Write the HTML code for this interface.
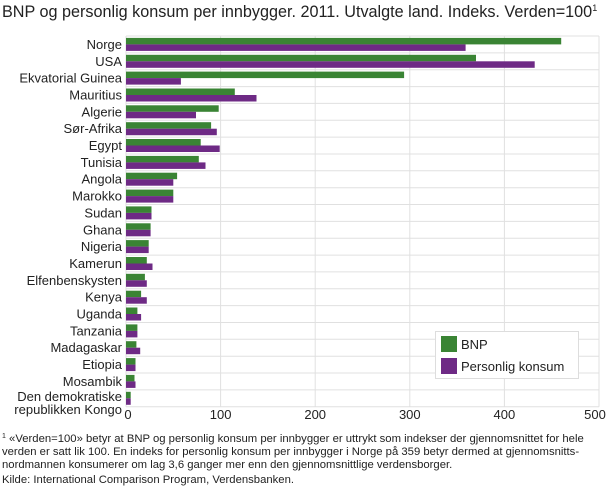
<!DOCTYPE html>
<html><head><meta charset="utf-8"><style>
body{margin:0;background:#fff;}
svg{display:block;font-family:"Liberation Sans","DejaVu Sans",sans-serif;}
.l{font-size:13px;fill:#222;text-anchor:end}
.t{font-size:13px;fill:#222;text-anchor:middle}
.f{font-size:11.3px;fill:#222}
.g{fill:#3a8434}.p{fill:#6e2a85}
</style></head><body>
<svg width="610" height="488" viewBox="0 0 610 488">
<text x="2" y="17" style="font-size:16.2px;fill:#222">BNP og personlig konsum per innbygger. 2011. Utvalgte land. Indeks. Verden=100<tspan style="font-size:9px" dy="-6">1</tspan></text>
<g stroke="#e0e0e0" stroke-width="1">
<line x1="126" x2="599" y1="36" y2="36"/><line x1="126" x2="599" y1="52.9" y2="52.9"/><line x1="126" x2="599" y1="69.7" y2="69.7"/><line x1="126" x2="599" y1="86.6" y2="86.6"/><line x1="126" x2="599" y1="103.4" y2="103.4"/><line x1="126" x2="599" y1="120.3" y2="120.3"/><line x1="126" x2="599" y1="137.1" y2="137.1"/><line x1="126" x2="599" y1="154" y2="154"/><line x1="126" x2="599" y1="170.8" y2="170.8"/><line x1="126" x2="599" y1="187.7" y2="187.7"/><line x1="126" x2="599" y1="204.5" y2="204.5"/><line x1="126" x2="599" y1="221.4" y2="221.4"/><line x1="126" x2="599" y1="238.2" y2="238.2"/><line x1="126" x2="599" y1="255.1" y2="255.1"/><line x1="126" x2="599" y1="271.9" y2="271.9"/><line x1="126" x2="599" y1="288.8" y2="288.8"/><line x1="126" x2="599" y1="305.6" y2="305.6"/><line x1="126" x2="599" y1="322.5" y2="322.5"/><line x1="126" x2="599" y1="339.3" y2="339.3"/><line x1="126" x2="599" y1="356.2" y2="356.2"/><line x1="126" x2="599" y1="373" y2="373"/><line x1="126" x2="599" y1="389.9" y2="389.9"/><line x1="126" x2="599" y1="406.7" y2="406.7"/>
<line x1="126" x2="126" y1="36" y2="406.7"/><line x1="220.6" x2="220.6" y1="36" y2="406.7"/><line x1="315.2" x2="315.2" y1="36" y2="406.7"/><line x1="409.8" x2="409.8" y1="36" y2="406.7"/><line x1="504.4" x2="504.4" y1="36" y2="406.7"/><line x1="599" x2="599" y1="36" y2="406.7"/>
</g>
<g>
<rect class="g" x="126" y="37.9" width="435.2" height="6.5"/><rect class="p" x="126" y="44.4" width="339.6" height="6.5"/>
<rect class="g" x="126" y="54.8" width="350" height="6.5"/><rect class="p" x="126" y="61.3" width="408.7" height="6.5"/>
<rect class="g" x="126" y="71.6" width="278.1" height="6.5"/><rect class="p" x="126" y="78.1" width="54.9" height="6.5"/>
<rect class="g" x="126" y="88.5" width="108.8" height="6.5"/><rect class="p" x="126" y="95" width="130.5" height="6.5"/>
<rect class="g" x="126" y="105.3" width="92.7" height="6.5"/><rect class="p" x="126" y="111.8" width="70" height="6.5"/>
<rect class="g" x="126" y="122.2" width="85.1" height="6.5"/><rect class="p" x="126" y="128.7" width="90.8" height="6.5"/>
<rect class="g" x="126" y="139" width="74.7" height="6.5"/><rect class="p" x="126" y="145.5" width="93.7" height="6.5"/>
<rect class="g" x="126" y="155.9" width="72.8" height="6.5"/><rect class="p" x="126" y="162.4" width="79.5" height="6.5"/>
<rect class="g" x="126" y="172.7" width="51.1" height="6.5"/><rect class="p" x="126" y="179.2" width="47.3" height="6.5"/>
<rect class="g" x="126" y="189.6" width="47.3" height="6.5"/><rect class="p" x="126" y="196.1" width="47.3" height="6.5"/>
<rect class="g" x="126" y="206.4" width="25.5" height="6.5"/><rect class="p" x="126" y="212.9" width="25.5" height="6.5"/>
<rect class="g" x="126" y="223.3" width="24.6" height="6.5"/><rect class="p" x="126" y="229.8" width="24.6" height="6.5"/>
<rect class="g" x="126" y="240.1" width="22.7" height="6.5"/><rect class="p" x="126" y="246.6" width="22.7" height="6.5"/>
<rect class="g" x="126" y="257" width="20.8" height="6.5"/><rect class="p" x="126" y="263.5" width="26.5" height="6.5"/>
<rect class="g" x="126" y="273.8" width="18.9" height="6.5"/><rect class="p" x="126" y="280.3" width="20.8" height="6.5"/>
<rect class="g" x="126" y="290.7" width="15.1" height="6.5"/><rect class="p" x="126" y="297.2" width="20.8" height="6.5"/>
<rect class="g" x="126" y="307.5" width="11.4" height="6.5"/><rect class="p" x="126" y="314" width="15.1" height="6.5"/>
<rect class="g" x="126" y="324.4" width="11.4" height="6.5"/><rect class="p" x="126" y="330.9" width="11.4" height="6.5"/>
<rect class="g" x="126" y="341.2" width="10.4" height="6.5"/><rect class="p" x="126" y="347.7" width="14.2" height="6.5"/>
<rect class="g" x="126" y="358.1" width="9.5" height="6.5"/><rect class="p" x="126" y="364.6" width="9.5" height="6.5"/>
<rect class="g" x="126" y="374.9" width="8.5" height="6.5"/><rect class="p" x="126" y="381.4" width="9.5" height="6.5"/>
<rect class="g" x="126" y="391.8" width="4.7" height="6.5"/><rect class="p" x="126" y="398.3" width="4.7" height="6.5"/>
</g>
<g class="l">
<text x="122" y="49">Norge</text><text x="122" y="65.8">USA</text><text x="122" y="82.6">Ekvatorial Guinea</text><text x="122" y="99.5">Mauritius</text><text x="122" y="116.3">Algerie</text><text x="122" y="133.2">Sør-Afrika</text><text x="122" y="150">Egypt</text><text x="122" y="166.9">Tunisia</text><text x="122" y="183.7">Angola</text><text x="122" y="200.6">Marokko</text><text x="122" y="217.4">Sudan</text><text x="122" y="234.3">Ghana</text><text x="122" y="251.1">Nigeria</text><text x="122" y="268">Kamerun</text><text x="122" y="284.8">Elfenbenskysten</text><text x="122" y="301.7">Kenya</text><text x="122" y="318.5">Uganda</text><text x="122" y="335.4">Tanzania</text><text x="122" y="352.2">Madagaskar</text><text x="122" y="369.1">Etiopia</text><text x="122" y="385.9">Mosambik</text><text x="122" y="401">Den demokratiske</text><text x="122" y="414">republikken Kongo</text>
</g>
<g class="t">
<text x="128" y="419">0</text><text x="220.6" y="419">100</text><text x="315.2" y="419">200</text><text x="409.8" y="419">300</text><text x="504.4" y="419">400</text><text x="595" y="419">500</text>
</g>
<rect x="435.5" y="331.5" width="143" height="47" fill="#fff" stroke="#ddd"/>
<rect x="441" y="336" width="16" height="16" class="g"/><rect x="441" y="358" width="16" height="16" class="p"/>
<text x="461" y="349" style="font-size:13px;fill:#222">BNP</text><text x="461" y="371" style="font-size:13px;fill:#222">Personlig konsum</text>
<text class="f" x="2" y="442"><tspan style="font-size:7px" dy="-4">1</tspan><tspan dy="4"> «Verden=100» betyr at BNP og personlig konsum per innbygger er uttrykt som indekser der gjennomsnittet for hele</tspan></text>
<text class="f" x="2" y="455">verden er satt lik 100. En indeks for personlig konsum per innbygger i Norge på 359 betyr dermed at gjennomsnitts-</text>
<text class="f" x="2" y="468">nordmannen konsumerer om lag 3,6 ganger mer enn den gjennomsnittlige verdensborger.</text>
<text class="f" x="2" y="483">Kilde: International Comparison Program, Verdensbanken.</text>
</svg>
</body></html>
